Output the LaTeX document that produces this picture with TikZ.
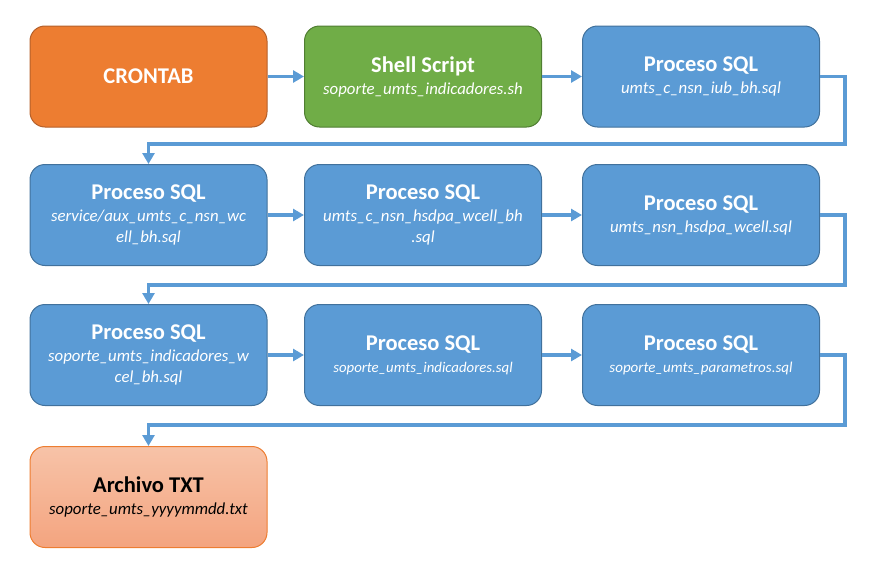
\documentclass[tikz,border=0pt]{standalone}
\usepackage{fontspec}
\setmainfont{Carlito}
\usetikzlibrary{arrows.meta}
\definecolor{cronfill}{HTML}{ED7D31}
\definecolor{crondraw}{HTML}{B5602A}
\definecolor{shellfill}{HTML}{70AD47}
\definecolor{shelldraw}{HTML}{507E32}
\definecolor{sqlfill}{HTML}{5B9BD5}
\definecolor{sqldraw}{HTML}{41719C}
\definecolor{txttop}{HTML}{F7C3A8}
\definecolor{txtbottom}{HTML}{F4A47F}
\definecolor{flowblue}{HTML}{5B9BD5}
\newcommand\boxtitle[1]{{\fontsize{22.5}{26}\selectfont\bfseries #1}}
\newcommand\boxfile[1]{{\fontsize{16.8}{21}\selectfont\itshape #1}}
\begin{document}
\begin{tikzpicture}[x=1pt,y=-1pt,
  box/.style={draw, line width=1pt, rounded corners=15pt, minimum width=237pt, minimum height=101pt, align=center, text=white, font=\fontsize{16}{21}\selectfont},
  sqlbox/.style={box, fill=sqlfill, draw=sqldraw},
  flow/.style={draw=flowblue, line width=3.5pt, -{Triangle[length=11pt,width=12pt]}}]
  \useasboundingbox (0,0) rectangle (878,570);
  \node[box, fill=cronfill, draw=crondraw] (crontab) at (148.5,76.5) {\boxtitle{CRONTAB}};
  \node[box, fill=shellfill, draw=shelldraw] (shell) at (423,76.5) {\boxtitle{Shell Script}\\[1pt]\boxfile{soporte\_umts\_indicadores.sh}};
  \node[sqlbox] (iub) at (701,76.5) {\boxtitle{Proceso SQL}\\[1pt]\boxfile{umts\_c\_nsn\_iub\_bh.sql}};
  \node[sqlbox] (wcell) at (148.5,215) {\boxtitle{Proceso SQL}\\[1pt]\boxfile{service/aux\_umts\_c\_nsn\_wc}\\\boxfile{ell\_bh.sql}};
  \node[sqlbox] (hsdpa) at (423,215) {\boxtitle{Proceso SQL}\\[1pt]\boxfile{umts\_c\_nsn\_hsdpa\_wcell\_bh}\\\boxfile{.sql}};
  \node[sqlbox] (nsnhsdpa) at (701,215) {\boxtitle{Proceso SQL}\\[1pt]\boxfile{umts\_nsn\_hsdpa\_wcell.sql}};
  \node[sqlbox] (indwcel) at (148.5,355) {\boxtitle{Proceso SQL}\\[1pt]\boxfile{soporte\_umts\_indicadores\_w}\\\boxfile{cel\_bh.sql}};
  \node[sqlbox] (indic) at (423,355) {\boxtitle{Proceso SQL}\\[1pt]{\fontsize{14.8}{19}\selectfont\itshape soporte\_umts\_indicadores.sql}};
  \node[sqlbox] (param) at (701,355) {\boxtitle{Proceso SQL}\\[1pt]{\fontsize{15}{19}\selectfont\itshape soporte\_umts\_parametros.sql}};
  \node[box, top color=txttop, bottom color=txtbottom, draw=cronfill, text=black] (txt) at (148.5,497) {\boxtitle{Archivo TXT}\\[1pt]\boxfile{soporte\_umts\_yyyymmdd.txt}};
  \draw[flow] (crontab) -- (shell);
  \draw[flow] (shell) -- (iub);
  \draw[flow] (iub.east) -| (845,144) -| (wcell.north);
  \draw[flow] (wcell) -- (hsdpa);
  \draw[flow] (hsdpa) -- (nsnhsdpa);
  \draw[flow] (nsnhsdpa.east) -| (845,285) -| (indwcel.north);
  \draw[flow] (indwcel) -- (indic);
  \draw[flow] (indic) -- (param);
  \draw[flow] (param.east) -| (845,425) -| (txt.north);
\end{tikzpicture}
\end{document}
